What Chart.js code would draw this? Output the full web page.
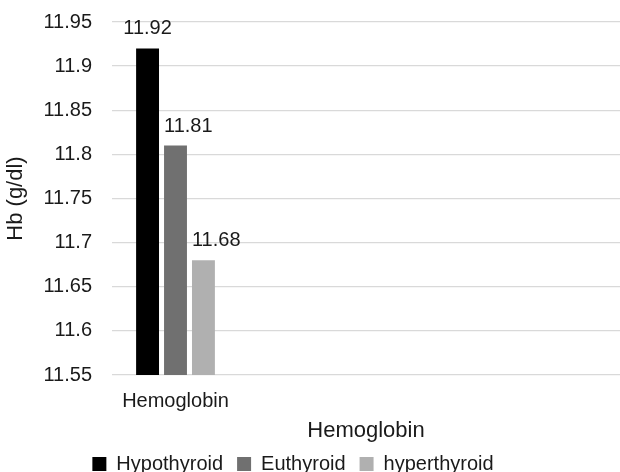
<!DOCTYPE html>
<html>
<head>
<meta charset="utf-8">
<script src="https://cdn.jsdelivr.net/npm/chart.js@4/dist/chart.umd.min.js"></script>
<style>
html,body{margin:0;padding:0;background:#fff;}
#wrap{width:620px;height:472px;position:relative;}
</style>
</head>
<body>
<div id="wrap"><canvas id="c" width="620" height="472"></canvas></div>
<script>
const categories = ['Hemoglobin', '', '', ''];
const seriesNames = ['Hypothyroid', 'Euthyroid', 'hyperthyroid'];
const hypothyroid = [11.92];
const euthyroid = [11.81];
const hyperthyroid = [11.68];
const yTicks = [11.55, 11.6, 11.65, 11.7, 11.75, 11.8, 11.85, 11.9, 11.95];
const colors = ['#000000', '#707070', '#b0b0b0'];

const FONT = "'Liberation Sans', Arial, sans-serif";
const TXT = '#1a1a1a';

const labelPlugin = {
  id: 'valueLabels',
  afterLayout(chart) {
    if (chart.legend) { chart.legend.left -= 17; chart.legend.right -= 17; }
  },
  afterDatasetsDraw(chart) {
    const ctx = chart.ctx;
    ctx.save();
    ctx.font = '20px ' + FONT;
    ctx.fillStyle = TXT;
    ctx.textBaseline = 'alphabetic';
    chart.data.datasets.forEach((ds, i) => {
      const meta = chart.getDatasetMeta(i);
      meta.data.forEach((el, j) => {
        const v = ds.data[j];
        if (v == null) return;
        const align = ds.valueLabelAlign || 'center';
        ctx.textAlign = align;
        const x = align === 'left' ? el.x - el.width / 2 : el.x;
        ctx.fillText(v.toFixed(2), x, el.y - 14);
      });
    });
    ctx.restore();
  }
};

new Chart(document.getElementById('c'), {
  type: 'bar',
  data: {
    labels: categories,
    datasets: [
      { label: seriesNames[0], data: hypothyroid, backgroundColor: colors[0], valueLabelAlign: 'center' },
      { label: seriesNames[1], data: euthyroid, backgroundColor: colors[1], valueLabelAlign: 'left' },
      { label: seriesNames[2], data: hyperthyroid, backgroundColor: colors[2], valueLabelAlign: 'left' }
    ]
  },
  options: {
    responsive: false,
    animation: false,
    devicePixelRatio: 1,
    layout: { padding: { top: 22, right: 0, bottom: -12, left: 0 } },
    datasets: { bar: { categoryPercentage: 0.66, barPercentage: 0.82 } },
    plugins: {
      legend: {
        position: 'bottom',
        labels: {
          font: { family: FONT, size: 20 },
          color: TXT,
          boxWidth: 14,
          boxHeight: 14,
          padding: 14
        }
      },
      tooltip: { enabled: false }
    },
    scales: {
      x: {
        afterFit(scale) { scale.height = 65; scale.paddingLeft = 0; scale.paddingRight = 0; },
        grid: { display: false },
        border: { display: false },
        ticks: { font: { family: FONT, size: 20 }, color: TXT, padding: 6, maxRotation: 0 },
        title: { display: true, text: 'Hemoglobin', font: { family: FONT, size: 22 }, color: TXT, padding: { top: 0, bottom: -4 } }
      },
      y: {
        min: 11.55,
        max: 11.95,
        afterBuildTicks(scale) { scale.ticks = yTicks.map(v => ({ value: v })); },
        afterFit(scale) { scale.width = 112; scale.paddingTop = 0; scale.paddingBottom = 0; },
        grid: { color: '#d9d9d9', lineWidth: 1.3, drawTicks: false },
        border: { display: false },
        ticks: {
          font: { family: FONT, size: 20 },
          color: TXT,
          padding: 20,
          callback: v => String(Number(v.toFixed(2)))
        },
        title: { display: true, text: 'Hb (g/dl)', font: { family: FONT, size: 22 }, color: TXT, padding: { top: 3, bottom: 0 } }
      }
    }
  },
  plugins: [labelPlugin]
});
</script>
</body>
</html>
